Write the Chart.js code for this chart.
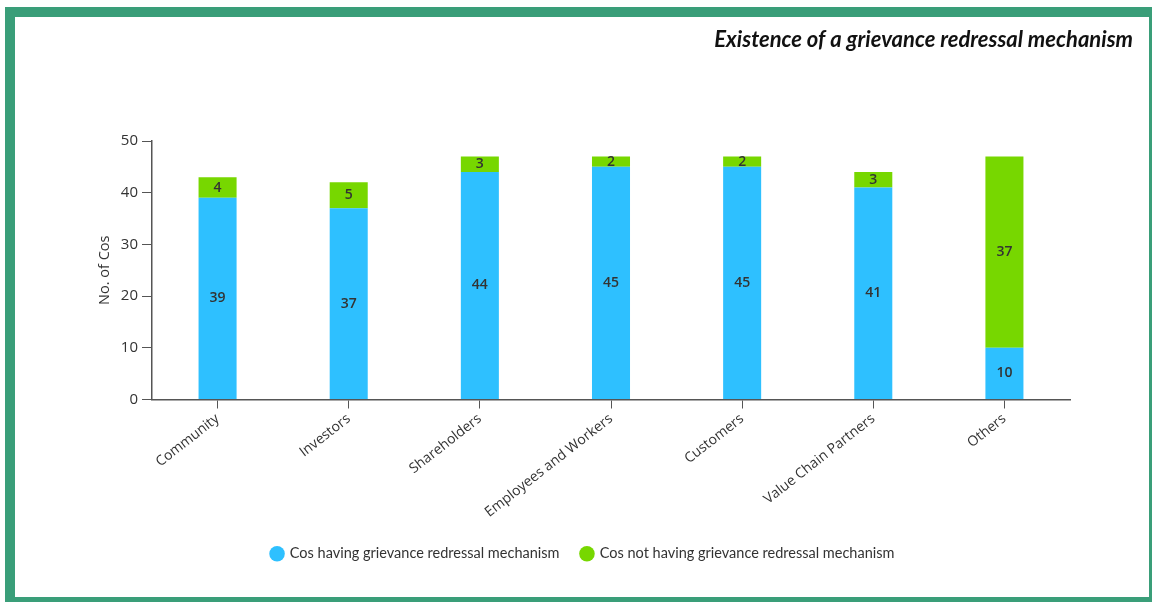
<!DOCTYPE html>
<html>
<head>
<meta charset="utf-8">
<script src="https://cdn.jsdelivr.net/npm/chart.js@4.4.0/dist/chart.umd.min.js"></script>
<style>
  html, body { margin: 0; padding: 0; background: #fff; overflow: hidden; }
  #wrap { position: relative; width: 1152px; height: 602px; }
  #frame {
    position: absolute; left: 5px; top: 7px; width: 1154px; height: 600px;
    box-sizing: border-box; border: 10px solid #3a9e79; pointer-events: none;
  }
  canvas { position: absolute; left: 0; top: 0; }
</style>
</head>
<body>
<div id="wrap">
  <canvas id="grievanceChart" width="1152" height="602"></canvas>
  <div id="frame"></div>
</div>
<script>
const categories = [
  "Community",
  "Investors",
  "Shareholders",
  "Employees and Workers",
  "Customers",
  "Value Chain Partners",
  "Others",
];
const withMechanism = [39, 37, 44, 45, 45, 41, 10];
const withoutMechanism = [4, 5, 3, 2, 2, 3, 37];
const yTicks = [0, 10, 20, 30, 40, 50];

const BLUE = "#2ec0ff";
const GREEN = "#77d700";
const AXIS = "#555555";
const TEXT = "#333333";
const FONT = "Lato, 'Open Sans', sans-serif";
const AXIS_FONT = "'Open Sans', Lato, sans-serif";

// value written in the middle of every stacked segment
const segmentLabels = {
  id: "segmentLabels",
  afterDatasetsDraw(chart) {
    const { ctx } = chart;
    ctx.save();
    ctx.font = "600 14px " + AXIS_FONT;
    ctx.fillStyle = TEXT;
    ctx.textAlign = "center";
    ctx.textBaseline = "middle";
    chart.data.datasets.forEach((ds, i) => {
      chart.getDatasetMeta(i).data.forEach((bar, j) => {
        ctx.fillText(ds.data[j], bar.x, (bar.y + bar.base) / 2);
      });
    });
    ctx.restore();
  },
};

// italic heading in the top right corner
const cornerTitle = {
  id: "cornerTitle",
  afterDraw(chart, args, opts) {
    const { ctx } = chart;
    ctx.save();
    ctx.font = "italic bold 22px " + FONT;
    ctx.fillStyle = "#111";
    ctx.textAlign = "right";
    ctx.textBaseline = "middle";
    ctx.fillText(opts.text, opts.right, opts.y);
    ctx.restore();
  },
};

const createChart = () => {
  const ctx = document.getElementById("grievanceChart").getContext("2d");
  new Chart(ctx, {
    type: "bar",
    data: {
      labels: categories,
      datasets: [
        {
          label: "Cos having grievance redressal mechanism",
          data: withMechanism,
          backgroundColor: BLUE,
          barPercentage: 0.29,
          categoryPercentage: 1,
        },
        {
          label: "Cos not having grievance redressal mechanism",
          data: withoutMechanism,
          backgroundColor: GREEN,
          barPercentage: 0.29,
          categoryPercentage: 1,
        },
      ],
    },
    plugins: [segmentLabels, cornerTitle],
    options: {
      responsive: false,
      animation: false,
      layout: {
        padding: { left: 96, right: 82, top: 141, bottom: 31 },
      },
      plugins: {
        tooltip: { enabled: false },
        cornerTitle: {
          text: "Existence of a grievance redressal mechanism",
          right: 1133,
          y: 40,
        },
        legend: {
          position: "bottom",
          labels: {
            usePointStyle: true,
            pointStyle: "circle",
            boxWidth: 11,
            boxHeight: 11,
            padding: 22,
            color: TEXT,
            font: { family: FONT, size: 14.5 },
          },
        },
      },
      scales: {
        x: {
          stacked: true,
          grid: {
            display: true,
            offset: false,
            drawOnChartArea: false,
            tickLength: 9,
            color: AXIS,
          },
          border: { color: AXIS, width: 1.5 },
          ticks: {
            color: TEXT,
            font: { family: AXIS_FONT, size: 14 },
            minRotation: 38,
            maxRotation: 38,
            padding: 2,
          },
          afterFit: (scale) => {
            scale.height = 125;
          },
        },
        y: {
          stacked: true,
          min: 0,
          max: 50,
          afterBuildTicks: (scale) => {
            scale.ticks = yTicks.map((v) => ({ value: v }));
          },
          grid: {
            display: true,
            drawOnChartArea: false,
            tickLength: 10,
            color: AXIS,
          },
          border: { color: AXIS, width: 1.5 },
          ticks: {
            color: TEXT,
            font: { family: AXIS_FONT, size: 15 },
            padding: 4,
          },
          title: {
            display: true,
            text: "No. of Cos",
            color: TEXT,
            font: { family: AXIS_FONT, size: 14.5 },
            padding: 0,
          },
          afterFit: (scale) => {
            scale.width = 56;
          },
        },
      },
    },
  });
};

document.addEventListener("DOMContentLoaded", createChart);
</script>
</body>
</html>
